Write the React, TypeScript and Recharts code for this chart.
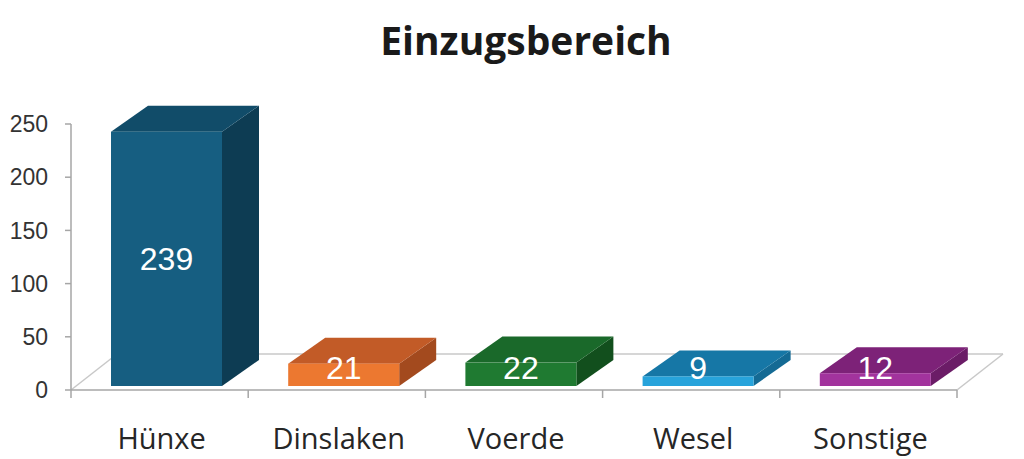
import { Bar, BarChart, LabelList, ReferenceArea, XAxis, YAxis } from "recharts"

const categories = ["Hünxe", "Dinslaken", "Voerde", "Wesel", "Sonstige"]
const counts = [239, 21, 22, 9, 12]
const yTicks = [0, 50, 100, 150, 200, 250]

// front / top / side shades per bar
const faceColors = [
  { front: "#165e81", top: "#114c69", side: "#0d3c53" },
  { front: "#ec7830", top: "#c25b27", side: "#a34a1e" },
  { front: "#1f7a31", top: "#1a692a", side: "#124f1d" },
  { front: "#27a3db", top: "#1677a6", side: "#146a94" },
  { front: "#a2339d", top: "#7d2278", side: "#6b1c67" },
]

const data = categories.map((name, i) => ({ name, value: counts[i] }))

// fake perspective
const BAR_DX = 37
const BAR_DY = -26
const SHIFT_X = 7
const SHIFT_Y = -4
const FLOOR_DX = 46
const FLOOR_DY = -36
const TICK_SIZE = 8
const TICK_GAP = 30
const GRID = "#a6a6a6"

function Box3D(props: any) {
  const { x, y, width, height, index } = props
  const c = faceColors[index % faceColors.length]
  const fx = x + SHIFT_X
  const fy = y + SHIFT_Y
  const top = `${fx},${fy} ${fx + width},${fy} ${fx + width + BAR_DX},${fy + BAR_DY} ${fx + BAR_DX},${fy + BAR_DY}`
  const side = `${fx + width},${fy} ${fx + width + BAR_DX},${fy + BAR_DY} ${fx + width + BAR_DX},${fy + height + BAR_DY} ${fx + width},${fy + height}`
  return (
    <g>
      <polygon points={side} fill={c.side} />
      <polygon points={top} fill={c.top} />
      <rect x={fx} y={fy} width={width} height={height} fill={c.front} />
    </g>
  )
}

function Floor(props: any) {
  const { x, y, width, height } = props
  const b = y + height
  const r = x + width
  return (
    <g fill="none" stroke="#c8c8c8" strokeWidth={1.5}>
      <line x1={x} y1={b} x2={x + FLOOR_DX} y2={b + FLOOR_DY} />
      <line x1={x + FLOOR_DX} y1={b + FLOOR_DY} x2={r + FLOOR_DX} y2={b + FLOOR_DY} />
      <line x1={r} y1={b} x2={r + FLOOR_DX} y2={b + FLOOR_DY} />
    </g>
  )
}

function ValueLabel(props: any) {
  const { x, y, width, height, value } = props
  const cx = x + SHIFT_X + width / 2
  const fy = y + SHIFT_Y
  const cy = Math.min(fy + height / 2, fy + height - 18)
  return (
    <text
      x={cx}
      y={cy}
      textAnchor="middle"
      dominantBaseline="central"
      fill="#ffffff"
      fontSize={32}
      fontFamily="Liberation Sans, Arial, sans-serif"
    >
      {value}
    </text>
  )
}

function CategoryTick(props: any) {
  const { x, y, payload, index, visibleTicksCount } = props
  const off = payload?.offset ?? 88.6
  const axisY = y - TICK_SIZE - TICK_GAP
  return (
    <g>
      <line x1={x - off} y1={axisY} x2={x - off} y2={axisY + TICK_SIZE} stroke={GRID} strokeWidth={1.5} />
      {index === visibleTicksCount - 1 && (
        <line x1={x + off} y1={axisY} x2={x + off} y2={axisY + TICK_SIZE} stroke={GRID} strokeWidth={1.5} />
      )}
      <text
        x={x + 2}
        y={y}
        dy="0.71em"
        textAnchor="middle"
        fill="#262626"
        fontSize={29}
        fontFamily="Open Sans, sans-serif"
      >
        {payload.value}
      </text>
    </g>
  )
}

export default function App() {
  return (
    <div style={{ position: "absolute", left: 0, top: 0, width: 1024, height: 459, background: "#ffffff" }}>
      <svg width={1024} height={70} style={{ position: "absolute", left: 0, top: 0 }}>
        <text
          x={526}
          y={55}
          textAnchor="middle"
          fontSize={39}
          fontWeight={700}
          fill="#1a1a1a"
          fontFamily="Open Sans, sans-serif"
        >
          Einzugsbereich
        </text>
      </svg>
      <BarChart
        width={1024}
        height={459}
        data={data}
        margin={{ top: 124, right: 67, bottom: 0, left: 11 }}
      >
        <ReferenceArea y1={0} y2={250} shape={<Floor />} ifOverflow="visible" />
        <XAxis
          dataKey="name"
          height={69}
          tickSize={TICK_SIZE}
          tickMargin={TICK_GAP}
          tickLine={false}
          axisLine={{ stroke: GRID, strokeWidth: 1.5 }}
          tick={<CategoryTick />}
          interval={0}
        />
        <YAxis
          width={60}
          domain={[0, 250]}
          ticks={yTicks}
          tickSize={6}
          tickMargin={17}
          axisLine={{ stroke: GRID, strokeWidth: 1.5 }}
          tickLine={{ stroke: GRID, strokeWidth: 1.5 }}
          tick={{ fill: "#333333", fontSize: 23, fontFamily: "Liberation Sans, Arial, sans-serif" }}
        />
        <Bar dataKey="value" barSize={111} shape={<Box3D />} isAnimationActive={false}>
          <LabelList dataKey="value" content={<ValueLabel />} />
        </Bar>
      </BarChart>
    </div>
  )
}
